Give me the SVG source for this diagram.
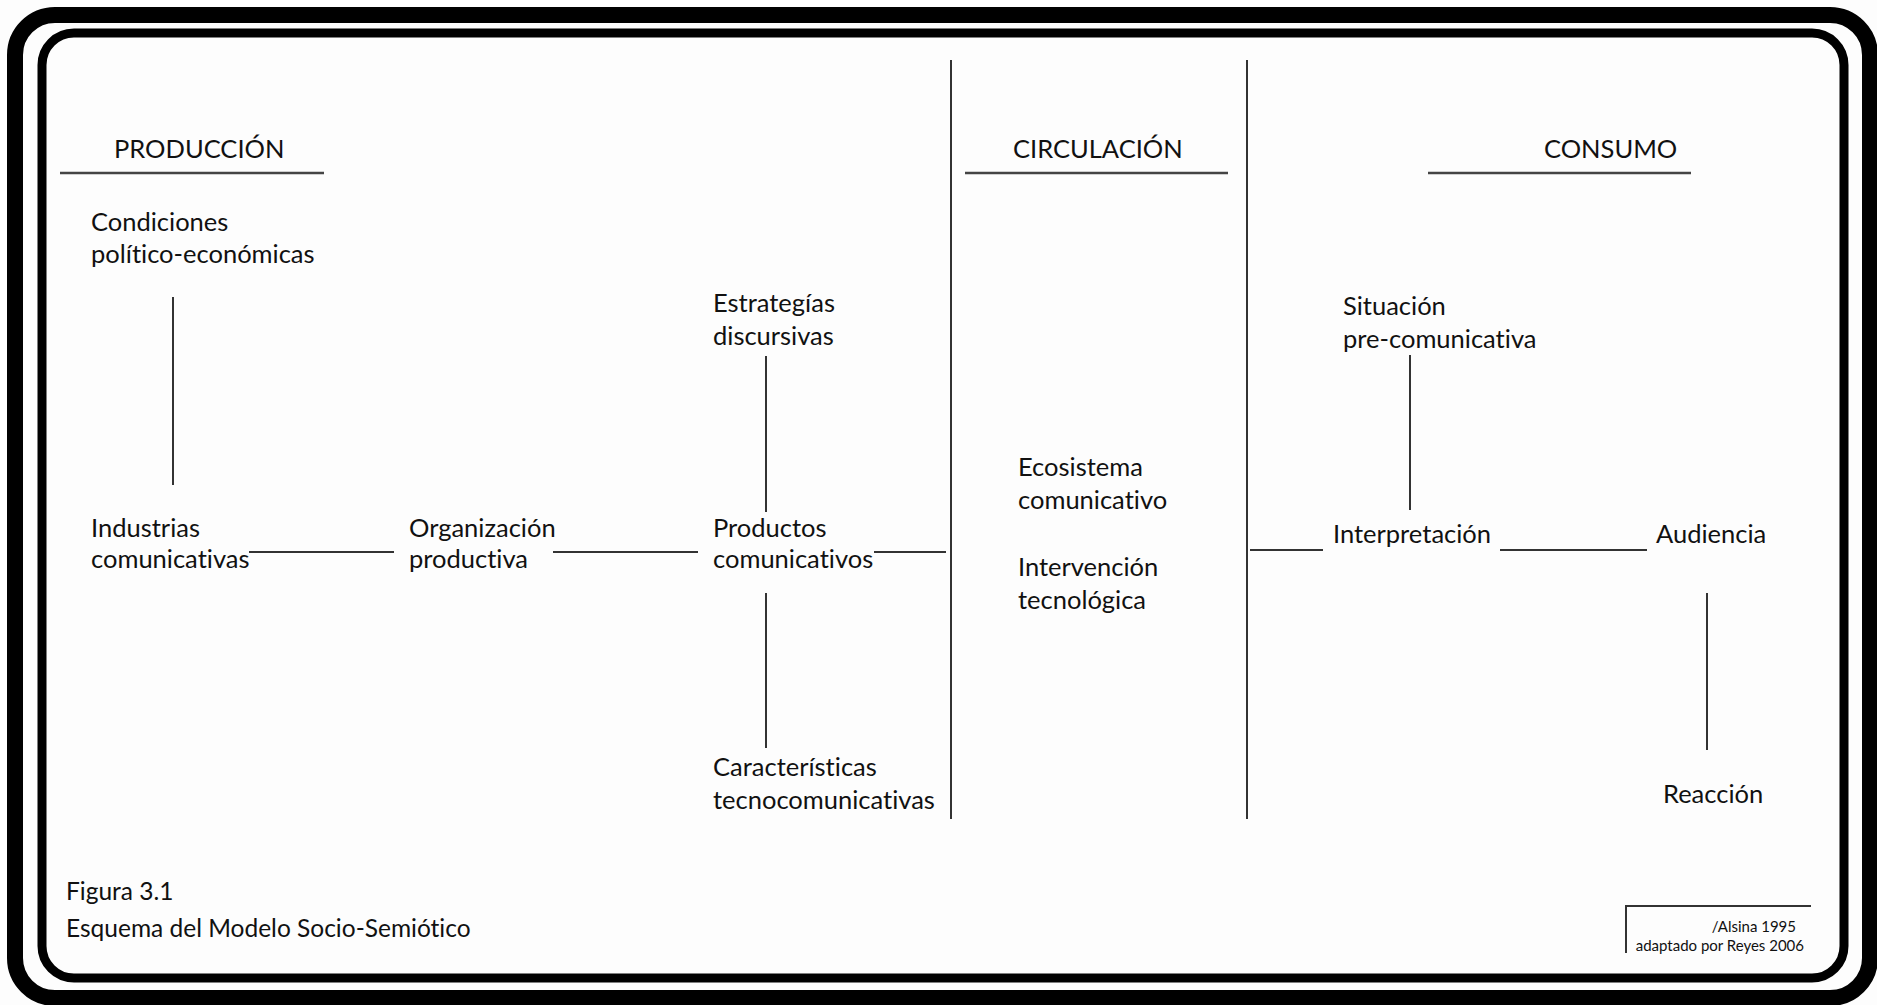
<svg xmlns="http://www.w3.org/2000/svg" width="1877" height="1005" viewBox="0 0 1877 1005">
<style>
.t{font-family:Lato,"Open Sans","Liberation Sans",sans-serif;font-size:25.5px;fill:#111;font-variant-ligatures:none}
.c{font-size:24.5px}
.s{font-family:Lato,"Open Sans","Liberation Sans",sans-serif;font-size:15px;fill:#111;font-variant-ligatures:none}
.ln{stroke:#333;stroke-width:2;fill:none}
.hd{stroke:#444;stroke-width:2.5;fill:none}
</style>
<rect width="1877" height="1005" fill="#fdfdfd"/>
<g id="frame">
<rect x="15" y="15" width="1855" height="983" rx="40" fill="none" stroke="#000" stroke-width="16"/>
<rect x="42" y="33" width="1802" height="945" rx="32" fill="none" stroke="#000" stroke-width="9"/>
</g>
<g id="headers">
<text class="t" x="114" y="158">PRODUCCIÓN</text>
<line class="hd" x1="60" y1="173" x2="324" y2="173"/>
<text class="t" x="1013" y="158">CIRCULACIÓN</text>
<line class="hd" x1="965" y1="173" x2="1228" y2="173"/>
<text class="t" x="1544" y="158">CONSUMO</text>
<line class="hd" x1="1428" y1="173" x2="1691" y2="173"/>
</g>
<g id="connectors">
<line class="ln" x1="951" y1="60" x2="951" y2="819"/>
<line class="ln" x1="1247" y1="60" x2="1247" y2="819"/>
<line class="ln" x1="173" y1="297" x2="173" y2="485"/>
<line class="ln" x1="249" y1="552" x2="394" y2="552"/>
<line class="ln" x1="553" y1="552" x2="698" y2="552"/>
<line class="ln" x1="874" y1="552" x2="946" y2="552"/>
<line class="ln" x1="766" y1="356" x2="766" y2="512"/>
<line class="ln" x1="766" y1="593" x2="766" y2="748"/>
<line class="ln" x1="1250" y1="550" x2="1323" y2="550"/>
<line class="ln" x1="1500" y1="550" x2="1647" y2="550"/>
<line class="ln" x1="1410" y1="355" x2="1410" y2="510"/>
<line class="ln" x1="1707" y1="593" x2="1707" y2="750"/>
</g>
<g id="n-condiciones"><text class="t" x="91" y="231">Condiciones</text><text class="t" x="91" y="263">político-económicas</text></g>
<g id="n-industrias"><text class="t" x="91" y="537">Industrias</text><text class="t" x="91" y="568">comunicativas</text></g>
<g id="n-organizacion"><text class="t" x="409" y="537">Organización</text><text class="t" x="409" y="568">productiva</text></g>
<g id="n-productos"><text class="t" x="713" y="537">Productos</text><text class="t" x="713" y="568">comunicativos</text></g>
<g id="n-estrategias"><text class="t" x="713" y="312">Estrategías</text><text class="t" x="713" y="345">discursivas</text></g>
<g id="n-caracteristicas"><text class="t" x="713" y="776">Características</text><text class="t" x="713" y="809">tecnocomunicativas</text></g>
<g id="n-ecosistema"><text class="t" x="1018" y="476">Ecosistema</text><text class="t" x="1018" y="509">comunicativo</text></g>
<g id="n-intervencion"><text class="t" x="1018" y="576">Intervención</text><text class="t" x="1018" y="609">tecnológica</text></g>
<g id="n-situacion"><text class="t" x="1343" y="315">Situación</text><text class="t" x="1343" y="348">pre-comunicativa</text></g>
<g id="n-interpretacion"><text class="t" x="1333" y="543">Interpretación</text></g>
<g id="n-audiencia"><text class="t" x="1656" y="543">Audiencia</text></g>
<g id="n-reaccion"><text class="t" x="1663" y="803">Reacción</text></g>
<g id="caption"><text class="t c" x="66" y="900">Figura 3.1</text><text class="t c" x="66" y="937">Esquema del Modelo Socio-Semiótico</text></g>
<g id="source">
<path class="ln" d="M1626 953 V906 H1811"/>
<text class="s" x="1796" y="932" text-anchor="end">/Alsina 1995</text>
<text class="s" x="1804" y="951" text-anchor="end">adaptado por Reyes 2006</text>
</g>
</svg>
